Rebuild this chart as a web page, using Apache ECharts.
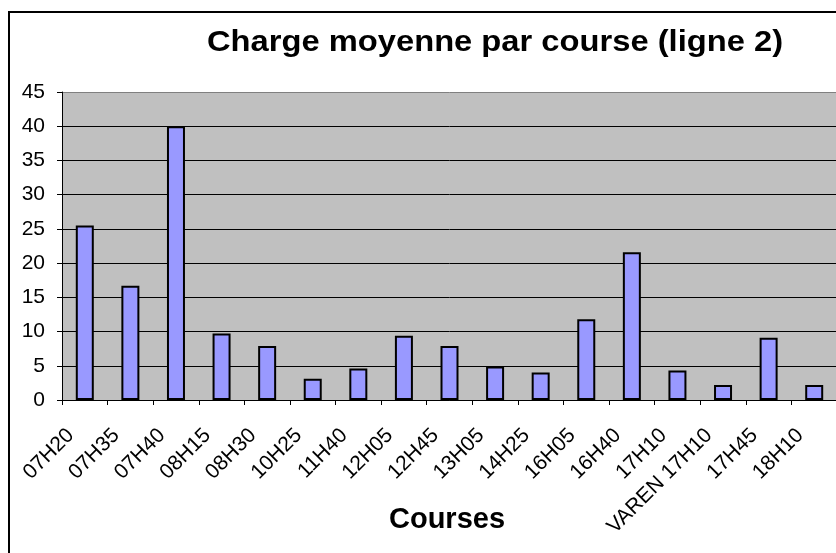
<!DOCTYPE html>
<html>
<head>
<meta charset="utf-8">
<script src="https://cdn.jsdelivr.net/npm/echarts@6/dist/echarts.min.js"></script>
<style>
html,body{margin:0;padding:0;background:#fff;}
#chart{width:836px;height:553px;}
</style>
</head>
<body>
<div id="chart"></div>
<script>
const categories = ['07H20','07H35','07H40','08H15','08H30','10H25','11H40','12H05','12H45','13H05','14H25','16H05','16H40','17H10','VAREN 17H10','17H45','18H10'];
const values = [25.5, 16.7, 40.0, 9.7, 7.9, 3.1, 4.6, 9.4, 7.9, 4.9, 4.0, 11.8, 21.6, 4.3, 2.2, 9.1, 2.2];
const titleText = 'Charge moyenne par course (ligne 2)';
const xAxisTitle = 'Courses';

const FONT = "'Liberation Sans', Arial, sans-serif";
const chart = echarts.init(document.getElementById('chart'), null, {renderer:'canvas'});
chart.setOption({
  animation: false,
  backgroundColor: '#fff',
  graphic: [
    {type:'rect', shape:{x:9, y:12, width:1000, height:1000}, style:{fill:'none', stroke:'#000', lineWidth:2}, z:100},
    {type:'text', x:495, y:43, scaleX:1.09, style:{text:titleText, fontFamily:FONT, fontSize:30, fontWeight:'bold', fill:'#000', align:'center', verticalAlign:'middle'}},
    {type:'text', x:447, y:520, style:{text:xAxisTitle, fontFamily:FONT, fontSize:29, fontWeight:'bold', fill:'#000', align:'center', verticalAlign:'middle'}}
  ],
  grid: {left: 62, top: 92, right: -1, bottom: 153, show: true, backgroundColor: '#C0C0C0', borderWidth: 0, containLabel: false, outerBoundsMode: 'none'},
  xAxis: {
    type: 'category', data: categories,
    axisLine: {show:true, lineStyle:{color:'#000', width:1}},
    axisTick: {show:true, length:5, lineStyle:{color:'#000'}},
    axisLabel: {rotate:45, margin:18, padding:[0,20,0,0], fontFamily:FONT, fontSize:21, color:'#000', interval:0}
  },
  yAxis: {
    type: 'value', min: 0, max: 45, interval: 5,
    axisLine: {show:true, lineStyle:{color:'#000', width:1}},
    axisTick: {show:true, length:5, lineStyle:{color:'#000'}},
    axisLabel: {margin:17, fontFamily:FONT, fontSize:21, color:'#000'},
    splitLine: {show:true, lineStyle:{color:['#000','#000','#000','#000','#000','#000','#000','#000','#000','#808080'], width:1}}
  },
  series: [{
    type: 'bar', data: values, barWidth: 18,
    itemStyle: {color:'#9999FF', borderColor:'#000', borderWidth:2}
  }]
});
</script>
</body>
</html>
